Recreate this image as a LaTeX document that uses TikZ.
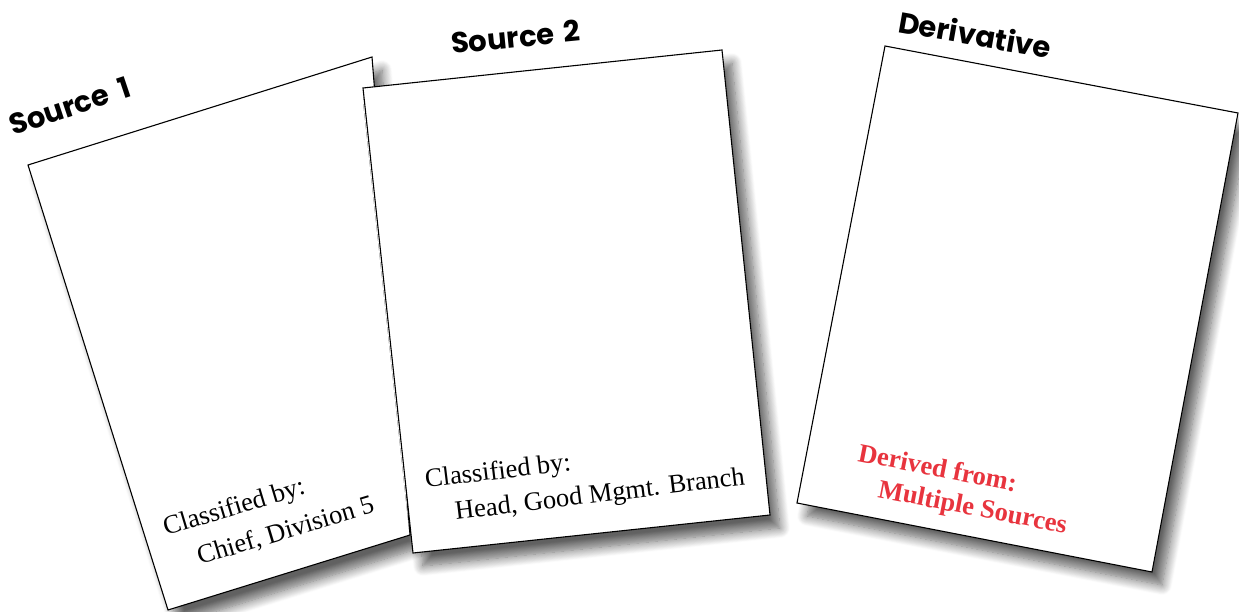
\documentclass[tikz,border=0pt]{standalone}
\usepackage{fontspec}
\setmainfont{Liberation Serif}
\newfontfamily\titlefont{Poppins}
\usetikzlibrary{shadows.blur}
\definecolor{derivred}{RGB}{232,52,62}
\tikzset{
 page/.style={draw=black, line width=1.1pt, fill=white, line join=miter,
   blur shadow={shadow xshift=10pt, shadow yshift=-13pt, shadow blur radius=10pt, shadow opacity=62, shadow blur steps=12}},
 titletext/.style={font=\titlefont\bfseries\fontsize{29}{36}\selectfont, anchor=base west, inner sep=0pt},
 stamp/.style={font=\fontsize{26.5}{30}\selectfont, anchor=base west, inner sep=0pt},
 dstamp/.style={font=\bfseries\fontsize{26.5}{30}\selectfont, anchor=base west, inner sep=0pt, text=derivred},
}
\begin{document}
\begin{tikzpicture}[x=1pt,y=-1pt]
\useasboundingbox (0,0) rectangle (1239,612);
% page 1
\coordinate (p1a) at (28,165);
\coordinate (p1b) at (372,57);
\coordinate (p1c) at (410,535);
\coordinate (p1d) at (168,610);
\path[page] (p1a) -- (p1b) -- (p1c) -- (p1d) -- cycle;
% page 2
\coordinate (p2a) at (363,88);
\coordinate (p2b) at (722,50);
\coordinate (p2c) at (770,515);
\coordinate (p2d) at (413,553);
\path[page] (p2a) -- (p2b) -- (p2c) -- (p2d) -- cycle;
% page 3
\coordinate (p3a) at (885,46);
\coordinate (p3b) at (1238,113);
\coordinate (p3c) at (1152,572);
\coordinate (p3d) at (797,503);
\path[page] (p3a) -- (p3b) -- (p3c) -- (p3d) -- cycle;
% titles
\node[titletext, rotate=18.5] (t1) at (13,136) {Source\hspace{5pt} 1};
\node[titletext, rotate=5.6] (t2) at (452,54) {Source\hspace{3pt} 2};
\node[titletext, rotate=-10] (t3) at (897,32) {Derivative};
% stamps
\node[stamp, rotate=16.8] (s1a) at (166,536) {Classified by:};
\node[stamp, rotate=16.8] (s1b) at (200,565) {Chief, Division 5};
\node[stamp, rotate=7] (s2a) at (426,488) {Classified by:};
\node[stamp, rotate=7] (s2b) at (456,520) {Head, Good Mgmt. Branch};
\node[dstamp, rotate=-11] (s3a) at (857,461) {Derived from:};
\node[dstamp, rotate=-11] (s3b) at (877,497) {Multiple Sources};
\end{tikzpicture}
\end{document}
